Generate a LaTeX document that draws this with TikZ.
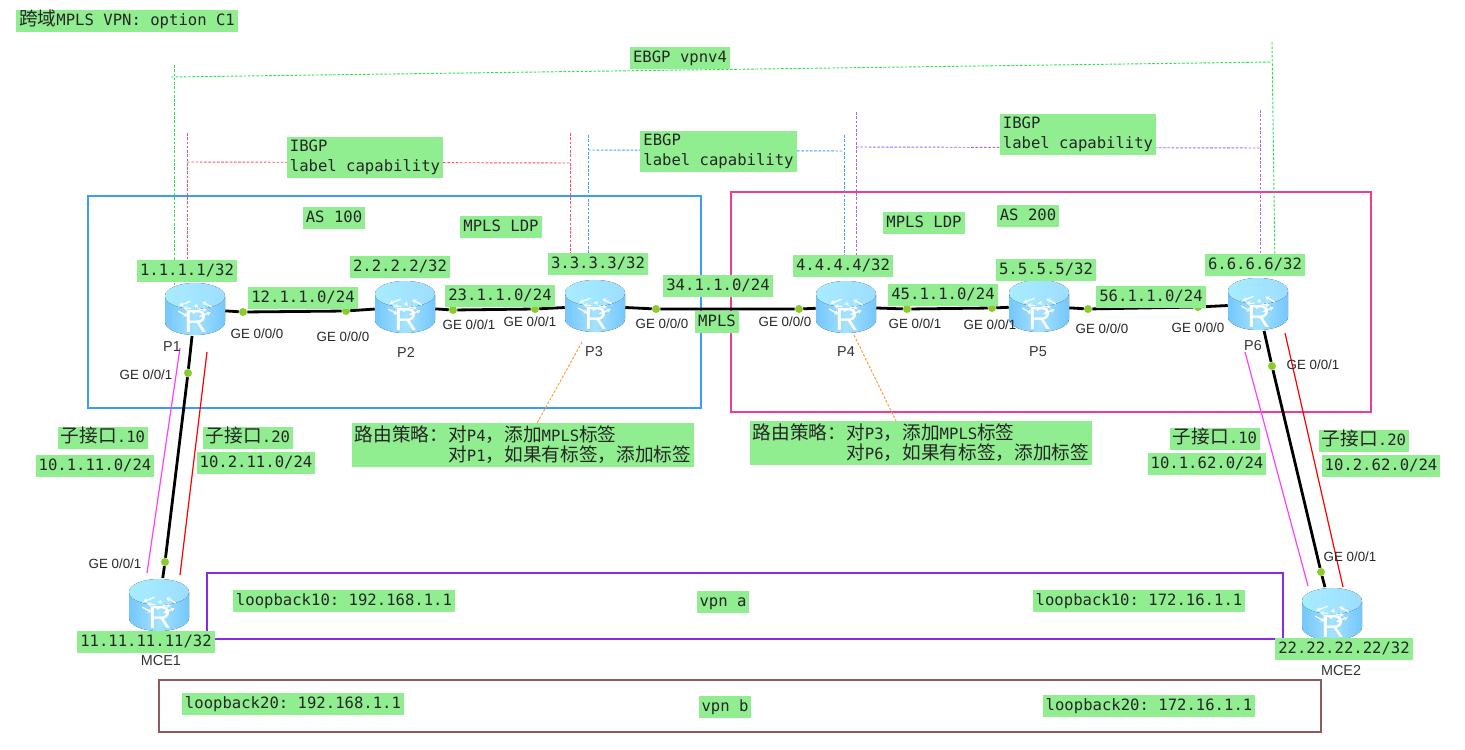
\documentclass[tikz,border=0pt]{standalone}
\usepackage{fontspec}
\setmainfont{Liberation Sans}
\setmonofont{DejaVu Sans Mono}
\newfontfamily\cnfont{Noto Sans CJK SC}
\usetikzlibrary{arrows.meta,backgrounds}
\definecolor{etiqueta}{HTML}{90EE90}
\definecolor{puerto}{HTML}{8CCB2E}
\definecolor{asazul}{HTML}{3D9BFF}
\definecolor{asrosa}{HTML}{F03C96}
\definecolor{vpnmorado}{HTML}{8A2BE2}
\definecolor{vpnmarron}{HTML}{8F5A5A}
\definecolor{ibgpmorado}{HTML}{B060F0}
\definecolor{sesverde}{HTML}{30E050}
\definecolor{sesazul}{HTML}{40A0F0}
\definecolor{sesrojo}{HTML}{F85060}
\definecolor{naranja}{HTML}{FF9A30}
\definecolor{sublila}{HTML}{FF40FF}
\definecolor{cuerpoa}{HTML}{74C6FC}
\definecolor{cuerpob}{HTML}{A4E2FF}
\definecolor{tapa}{HTML}{A8ECFF}
\newcommand{\zh}[1]{{\cnfont\fontsize{14}{16}\selectfont #1}}
\tikzset{
  tag/.style={fill=etiqueta,inner xsep=2.25pt,inner ysep=0pt,minimum height=16.5pt,text height=9pt,text depth=2.5pt,font=\ttfamily\fontsize{11.7}{15}\selectfont,text=black!85},
  tagblock/.style={fill=etiqueta,inner xsep=2.25pt,inner ysep=2pt,align=left,font=\ttfamily\fontsize{11.7}{15}\selectfont,text=black!85},
  gelabel/.style={font=\fontsize{10}{11}\selectfont,text=black!85,inner sep=0pt},
  namelabel/.style={font=\fontsize{10.8}{12}\selectfont,text=black!80,inner sep=0pt},
  portdot/.style={circle,fill=puerto,inner sep=0pt,minimum size=6pt},
  link/.style={line width=2.1pt,black},
  sublink/.style={line width=.9pt},
  session/.style={line width=.7pt,dash pattern=on 2pt off 1.2pt},
  area/.style={line width=.8pt},
  router/.style={rectangle,inner sep=0pt,minimum width=45pt,minimum height=40pt,path picture={
    \begin{scope}[shift={(path picture bounding box.center)}]
      \fill[left color=cuerpoa,right color=cuerpoa,middle color=cuerpob] (-30,-13) -- (-30,13) arc[start angle=180,end angle=360,x radius=22.5pt,y radius=9.75pt] -- (30,-13) -- cycle;
      \fill[left color=tapa,right color=cuerpob!85!cuerpoa] (0,-13) ellipse[x radius=22.5pt,y radius=9.75pt];
      \begin{scope}[shift={(0,-13)}]
        \foreach \a in {15,105,195,285} {
          \draw[white,line width=1pt,-{Stealth[length=3pt,width=3.5pt]}] (\a:13pt and 6pt) -- ({\a+50}:13pt and 6pt);
          \draw[white,line width=1pt,-{Stealth[length=3pt,width=3.5pt]}] ({\a+65}:3pt and 1.5pt) -- ({\a+65}:9pt and 4pt);
        }
      \end{scope}
      \node[white,font=\fontsize{24}{24}\selectfont,inner sep=0pt] at (1,12) {R};
    \end{scope}}},
}
\begin{document}
\begin{tikzpicture}[x=0.75pt,y=-0.75pt]
\useasboundingbox (0,0) rectangle (1465,750);

\node[router] (P1) at (195,309) {};
\node[router] (P2) at (405,307) {};
\node[router] (P3) at (595,306) {};
\node[router] (P4) at (846,307) {};
\node[router] (P5) at (1039,306) {};
\node[router] (P6) at (1258,304) {};
\node[router] (MCE1) at (159,605) {};
\node[router] (MCE2) at (1332,614) {};

\node[namelabel] (nP1) at (172,347) {P1};
\node[namelabel] (nP2) at (406,352) {P2};
\node[namelabel] (nP3) at (594,352) {P3};
\node[namelabel] (nP4) at (846,352) {P4};
\node[namelabel] (nP5) at (1038,352) {P5};
\node[namelabel] (nP6) at (1253,346) {P6};
\node[namelabel] (nMCE1) at (161,661) {MCE1};
\node[namelabel] (nMCE2) at (1341,671) {MCE2};

\node[portdot] (d12a) at (243,312) {};
\node[portdot] (d12b) at (346,311) {};
\node[portdot] (d23a) at (453,310) {};
\node[portdot] (d23b) at (535,309) {};
\node[portdot] (d34a) at (656,309) {};
\node[portdot] (d34b) at (799,309) {};
\node[portdot] (d45a) at (907,309) {};
\node[portdot] (d45b) at (992,308) {};
\node[portdot] (d56a) at (1088,309) {};
\node[portdot] (d56b) at (1198,307) {};
\node[portdot] (d1a) at (188,373) {};
\node[portdot] (d1b) at (165,562) {};
\node[portdot] (d6a) at (1272,366) {};
\node[portdot] (d6b) at (1321,572) {};

\node[gelabel] (g1) at (257,334) {GE 0/0/0};
\node[gelabel] (g2) at (343,337) {GE 0/0/0};
\node[gelabel] (g3) at (469,325) {GE 0/0/1};
\node[gelabel] (g4) at (530,322) {GE 0/0/1};
\node[gelabel] (g5) at (662,324) {GE 0/0/0};
\node[gelabel] (g6) at (785,322) {GE 0/0/0};
\node[gelabel] (g7) at (915,324) {GE 0/0/1};
\node[gelabel] (g8) at (990,325) {GE 0/0/1};
\node[gelabel] (g9) at (1102,329) {GE 0/0/0};
\node[gelabel] (g10) at (1198,328) {GE 0/0/0};
\node[gelabel] (g11) at (146,375) {GE 0/0/1};
\node[gelabel] (g12) at (1313,365) {GE 0/0/1};
\node[gelabel] (g13) at (115,564) {GE 0/0/1};
\node[gelabel] (g14) at (1350,557) {GE 0/0/1};

\node[tag] (title) at (127,21) {\zh{跨域}MPLS VPN: option C1};
\node[tag] (vpnv4) at (680,58) {EBGP vpnv4};
\node[tagblock] (ibgpL) at (365,157.5) {IBGP\\label capability};
\node[tagblock] (ebgp) at (718.5,151.5) {EBGP\\label capability};
\node[tagblock] (ibgpR) at (1078,134.5) {IBGP\\label capability};
\node[tag] (as100) at (334,218) {AS 100};
\node[tag] (as200) at (1028,216) {AS 200};
\node[tag] (ldpL) at (501,227) {MPLS LDP};
\node[tag] (ldpR) at (924,223) {MPLS LDP};
\node[tag] (ip1) at (187,271) {1.1.1.1/32};
\node[tag] (ip2) at (400,267) {2.2.2.2/32};
\node[tag] (ip3) at (598,264) {3.3.3.3/32};
\node[tag] (ip4) at (843,266) {4.4.4.4/32};
\node[tag] (ip5) at (1046,270) {5.5.5.5/32};
\node[tag] (ip6) at (1255,265) {6.6.6.6/32};
\node[tag] (net12) at (303,298) {12.1.1.0/24};
\node[tag] (net23) at (500,296) {23.1.1.0/24};
\node[tag] (net34) at (718,286) {34.1.1.0/24};
\node[tag] (net45) at (943,295) {45.1.1.0/24};
\node[tag] (net56) at (1151,297) {56.1.1.0/24};
\node[tag] (mpls) at (717,322) {MPLS};
\node[tagblock] (polL) at (523,445) {\zh{路由策略：对}P4\zh{，添加}MPLS\zh{标签}\\\phantom{\zh{路由策略：}}\zh{对}P1\zh{，如果有标签，添加标签}};
\node[tagblock] (polR) at (921,443) {\zh{路由策略：对}P3\zh{，添加}MPLS\zh{标签}\\\phantom{\zh{路由策略：}}\zh{对}P6\zh{，如果有标签，添加标签}};
\node[tag] (sub10L) at (103,438) {\zh{子接口}.10};
\node[tag] (net10L) at (95,466) {10.1.11.0/24};
\node[tag] (sub20L) at (248,438) {\zh{子接口}.20};
\node[tag] (net20L) at (256,463) {10.2.11.0/24};
\node[tag] (sub10R) at (1215,439) {\zh{子接口}.10};
\node[tag] (net10R) at (1207,464) {10.1.62.0/24};
\node[tag] (sub20R) at (1364,441) {\zh{子接口}.20};
\node[tag] (net20R) at (1381,466) {10.2.62.0/24};
\node[tag] (ip11) at (146,642) {11.11.11.11/32};
\node[tag] (ip22) at (1344,649) {22.22.22.22/32};
\node[tag] (lo10L) at (344,601) {loopback10: 192.168.1.1};
\node[tag] (lo10R) at (1139,601) {loopback10: 172.16.1.1};
\node[tag] (vpna) at (723,602) {vpn a};
\node[tag] (lo20L) at (293,704) {loopback20: 192.168.1.1};
\node[tag] (lo20R) at (1149,706) {loopback20: 172.16.1.1};
\node[tag] (vpnb) at (725,707) {vpn b};

\coordinate (vpnv4a) at (174,65);
\coordinate (vpnv4b) at (174,285);
\coordinate (vpnv4c) at (171,77);
\coordinate (vpnv4d) at (1272,62);
\coordinate (vpnv4e) at (1272,42);
\coordinate (vpnv4f) at (1275,270);
\coordinate (redA) at (187,133);
\coordinate (redB) at (187,262);
\coordinate (redC) at (187,162);
\coordinate (redD) at (570,163);
\coordinate (redE) at (570,133);
\coordinate (redF) at (570,255);
\coordinate (bluA) at (588,135);
\coordinate (bluB) at (588,255);
\coordinate (bluC) at (588,150);
\coordinate (bluD) at (844,151);
\coordinate (bluE) at (844,135);
\coordinate (bluF) at (844,258);
\coordinate (purA) at (856,112);
\coordinate (purB) at (856,258);
\coordinate (purC) at (856,147);
\coordinate (purD) at (1260,148);
\coordinate (purE) at (1260,110);
\coordinate (purF) at (1260,258);
\coordinate (sub1a) at (180,348);
\coordinate (sub1b) at (147,573);
\coordinate (sub2a) at (207,352);
\coordinate (sub2b) at (180,575);
\coordinate (sub3a) at (1245,352);
\coordinate (sub3b) at (1308,586);
\coordinate (sub4a) at (1285,333);
\coordinate (sub4b) at (1343,587);
\coordinate (pol3) at (582,342);
\coordinate (pol3b) at (536,425);
\coordinate (pol4) at (854,335);
\coordinate (pol4b) at (897,423);

\begin{scope}[on background layer]
\draw[area,asazul] (88,196) rectangle (701,408);
\draw[area,asrosa] (731,192) rectangle (1371,412);
\draw[area,vpnmorado] (207,573) rectangle (1283,639);
\draw[area,vpnmarron] (159,680) rectangle (1321,732);
\draw[link] (P1) -- (d12a) -- (d12b) -- (P2) -- (d23a) -- (d23b) -- (P3) -- (d34a) -- (d34b) -- (P4) -- (d45a) -- (d45b) -- (P5) -- (d56a) -- (d56b) -- (P6);
\draw[link] (P1) -- (d1a) -- (d1b) -- (MCE1);
\draw[link] (P6) -- (d6a) -- (d6b) -- (MCE2);
\draw[sublink,sublila] (sub1a) -- (sub1b);
\draw[sublink,red] (sub2a) -- (sub2b);
\draw[sublink,sublila] (sub3a) -- (sub3b);
\draw[sublink,red] (sub4a) -- (sub4b);
\draw[session,sesverde] (vpnv4a) -- (vpnv4b);
\draw[session,sesverde] (vpnv4c) -- (vpnv4d);
\draw[session,sesverde] (vpnv4e) -- (vpnv4f);
\draw[session,sesrojo] (redA) -- (redB);
\draw[session,sesrojo] (redC) -- (redD);
\draw[session,sesrojo] (redE) -- (redF);
\draw[session,sesazul] (bluA) -- (bluB);
\draw[session,sesazul] (bluC) -- (bluD);
\draw[session,sesazul] (bluE) -- (bluF);
\draw[session,ibgpmorado] (purA) -- (purB);
\draw[session,ibgpmorado] (purC) -- (purD);
\draw[session,ibgpmorado] (purE) -- (purF);
\draw[session,naranja] (pol3) -- (pol3b);
\draw[session,naranja] (pol4) -- (pol4b);
\end{scope}
\end{tikzpicture}
\end{document}
